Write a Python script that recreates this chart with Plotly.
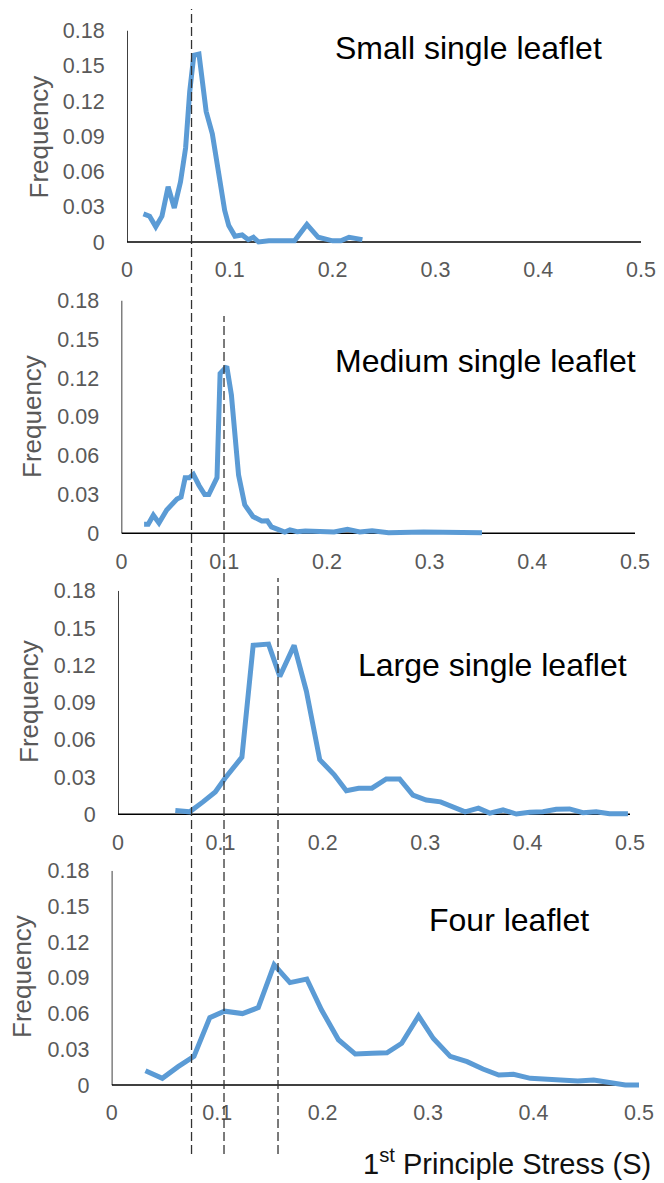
import plotly.graph_objects as go

# ---------------- data ----------------
x_ticks = [0, 0.1, 0.2, 0.3, 0.4, 0.5]
x_tick_labels = ["0", "0.1", "0.2", "0.3", "0.4", "0.5"]
y_ticks = [0, 0.03, 0.06, 0.09, 0.12, 0.15, 0.18]
y_tick_labels = ["0", "0.03", "0.06", "0.09", "0.12", "0.15", "0.18"]

panel_titles = ["Small single leaflet", "Medium single leaflet",
                "Large single leaflet", "Four leaflet"]
y_title = "Frequency"
x_title = "1<sup>st</sup> Principle Stress (S)"

small_x = [0.016, 0.022, 0.028, 0.034, 0.040, 0.046, 0.052, 0.057, 0.061, 0.065,
           0.070, 0.077, 0.083, 0.089, 0.095, 0.099, 0.105, 0.112, 0.118, 0.123,
           0.128, 0.138, 0.150, 0.163, 0.175, 0.186, 0.200, 0.208, 0.216, 0.222, 0.229]
small_y = [0.024, 0.022, 0.013, 0.022, 0.047, 0.029, 0.051, 0.080, 0.128, 0.159,
           0.160, 0.111, 0.092, 0.057, 0.027, 0.014, 0.005, 0.006, 0.002, 0.004,
           0.000, 0.001, 0.001, 0.001, 0.015, 0.004, 0.001, 0.001, 0.004, 0.003, 0.002]

medium_x = [0.022, 0.026, 0.031, 0.0365, 0.044, 0.048, 0.054, 0.058, 0.062, 0.066,
            0.070, 0.0755, 0.081, 0.085, 0.093, 0.096, 0.1025, 0.107, 0.111, 0.114,
            0.120, 0.128, 0.1365, 0.142, 0.146, 0.154, 0.159, 0.164, 0.171, 0.179,
            0.193, 0.207, 0.220, 0.232, 0.244, 0.260, 0.294, 0.318, 0.351]
medium_y = [0.007, 0.007, 0.014, 0.008, 0.018, 0.021, 0.0265, 0.028, 0.043, 0.043,
            0.0455, 0.037, 0.030, 0.030, 0.043, 0.1235, 0.129, 0.107, 0.068, 0.045,
            0.022, 0.013, 0.0095, 0.0097, 0.005, 0.003, 0.001, 0.0026, 0.0013, 0.0018,
            0.001, 0.001, 0.003, 0.001, 0.002, 0.0005, 0.001, 0.0005, 0.0005]

large_x = [0.056, 0.070, 0.083, 0.095, 0.1045, 0.113, 0.121, 0.132, 0.147, 0.158,
           0.172, 0.184, 0.197, 0.211, 0.223, 0.235, 0.248, 0.262, 0.275, 0.288,
           0.301, 0.315, 0.326, 0.339, 0.352, 0.363, 0.376, 0.389, 0.402, 0.415,
           0.428, 0.441, 0.454, 0.467, 0.480, 0.498]
large_y = [0.003, 0.002, 0.010, 0.018, 0.029, 0.037, 0.046, 0.136, 0.137, 0.111,
           0.136, 0.099, 0.044, 0.032, 0.019, 0.021, 0.021, 0.0285, 0.0285, 0.0155,
           0.0115, 0.010, 0.006, 0.002, 0.005, 0.001, 0.0035, 0.0002, 0.0016, 0.002,
           0.004, 0.0043, 0.0013, 0.002, 0.0005, 0.0005]

four_x = [0.032, 0.048, 0.063, 0.078, 0.093, 0.107, 0.124, 0.139, 0.154, 0.169,
          0.185, 0.199, 0.215, 0.231, 0.247, 0.261, 0.275, 0.291, 0.305, 0.321,
          0.337, 0.352, 0.367, 0.381, 0.397, 0.411, 0.427, 0.442, 0.457, 0.472,
          0.487, 0.500]
four_y = [0.012, 0.0056, 0.0154, 0.024, 0.0566, 0.062, 0.060, 0.065, 0.101, 0.086,
          0.089, 0.063, 0.038, 0.026, 0.0266, 0.027, 0.035, 0.058, 0.039, 0.024,
          0.0196, 0.0134, 0.0084, 0.009, 0.0056, 0.005, 0.0034, 0.0034, 0.0042, 0.0023,
          0.0, 0.0]

# dashed reference lines, in units of the "Four leaflet" x axis
ref_lines = [0.0757, 0.1065, 0.1577]

series = [(small_x, small_y), (medium_x, medium_y), (large_x, large_y), (four_x, four_y)]

# ---------------- layout geometry (page pixels) ----------------
PAGE_W, PAGE_H = 664, 1183
OFF = 8                      # default body margin of the html page
W, H = PAGE_W - OFF, PAGE_H - OFF


def fx(px):
    return (px - OFF) / W


def fy(py):
    return 1 - (py - OFF) / H


# (x pixel of 0, x pixel of 0.5, y pixel of 0, y pixel of 0.18)
frames = [(127, 641, 242, 30.5),
          (121.5, 635, 533.3, 300.5),
          (118, 630, 814.3, 590.7),
          (111.7, 639, 1085, 870.7)]
title_pos = [(468, 48), (485, 361), (492, 665), (509, 920)]
ytitle_pos = [(38.5, 137), (32, 417), (29, 702), (22, 977)]
ref_tops = [9, 316, 578]
ref_bottom = 1154

XMAX, YMIN = 0.508, -0.003

FONT = "Liberation Sans, Arial, sans-serif"
GRAY = "#595959"
BLUE = "#5B9BD5"

fig = go.Figure()
layout = dict(width=W, height=H, margin=dict(l=0, r=0, t=0, b=0, pad=0, autoexpand=False),
              paper_bgcolor="white", plot_bgcolor="white", showlegend=False,
              font=dict(family=FONT))
shapes, annotations = [], []

for i, ((xs, ys), (px0, px5, py0, py18)) in enumerate(zip(series, frames)):
    n = "" if i == 0 else str(i + 1)
    xr = px0 + (px5 - px0) * XMAX / 0.5
    yb = py0 + (py0 - py18) * (-YMIN) / 0.18
    layout["xaxis" + n] = dict(
        domain=[fx(px0), fx(xr)], range=[0, XMAX], anchor="y" + n, automargin=False,
        tickvals=x_ticks, ticktext=x_tick_labels, showgrid=False, zeroline=False,
        showline=False, ticks="outside", ticklen=5, tickcolor="rgba(0,0,0,0)",
        tickfont=dict(size=21.5, color=GRAY, family=FONT))
    layout["yaxis" + n] = dict(
        domain=[fy(yb), fy(py18)], range=[YMIN, 0.18], anchor="x" + n, automargin=False,
        tickvals=y_ticks, ticktext=y_tick_labels, showgrid=False, zeroline=False,
        showline=False, ticks="outside", ticklen=17, tickcolor="rgba(0,0,0,0)",
        tickfont=dict(size=21.5, color=GRAY, family=FONT))
    fig.add_trace(go.Scatter(x=xs, y=ys, mode="lines", xaxis="x" + n, yaxis="y" + n,
                             line=dict(color=BLUE, width=5), hoverinfo="skip"))
    # axis lines
    shapes.append(dict(type="line", xref="x" + n, yref="y" + n, x0=0, x1=0, y0=0, y1=0.18,
                       line=dict(color="black", width=1.5), layer="below"))
    shapes.append(dict(type="line", xref="x" + n, yref="y" + n, x0=0, x1=0.5, y0=0, y1=0,
                       line=dict(color="black", width=1.5), layer="below"))
    tx, ty = title_pos[i]
    annotations.append(dict(text=panel_titles[i], x=fx(tx), y=fy(ty), xref="paper",
                            yref="paper", showarrow=False, xanchor="center", yanchor="middle",
                            font=dict(size=32, color="black", family=FONT)))
    qx, qy = ytitle_pos[i]
    annotations.append(dict(text=y_title, x=fx(qx), y=fy(qy), xref="paper",
                            yref="paper", showarrow=False, xanchor="center", yanchor="middle",
                            textangle=-90, font=dict(size=26, color=GRAY, family=FONT)))

for xv, top in zip(ref_lines, ref_tops):
    shapes.append(dict(type="line", xref="x4", yref="paper", x0=xv, x1=xv,
                       y0=fy(ref_bottom), y1=fy(top),
                       line=dict(color="#333333", width=1.3, dash="9px,4px"), layer="above"))

annotations.append(dict(text=x_title, x=fx(507), y=fy(1162), xref="paper", yref="paper",
                        showarrow=False, xanchor="center", yanchor="middle",
                        font=dict(size=29, color="#111111", family=FONT)))

layout["shapes"] = shapes
layout["annotations"] = annotations
fig.update_layout(**layout)
fig.write_html("out.html")
